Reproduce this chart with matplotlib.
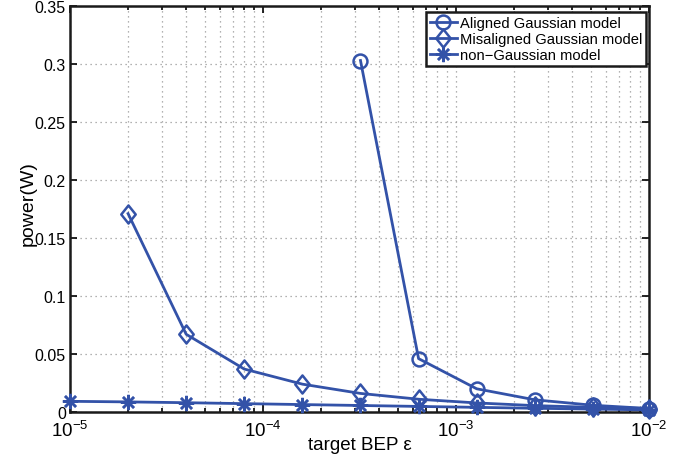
import numpy as np
import matplotlib.pyplot as plt
from matplotlib.path import Path

plt.rcParams['font.family'] = ['Liberation Sans', 'DejaVu Sans']

# target BEP values
eps_all = [1e-5, 2e-5, 4e-5, 8e-5, 1.6e-4, 3.2e-4, 6.4e-4, 1.28e-3, 2.56e-3, 5.12e-3, 1e-2]
eps_mis = eps_all[1:]
eps_ali = eps_all[5:]

# power (W)
p_aligned = [0.303, 0.046, 0.020, 0.0105, 0.0058, 0.003]
p_misaligned = [0.171, 0.067, 0.037, 0.024, 0.016, 0.011, 0.0078, 0.0055, 0.004, 0.003]
p_nongauss = [0.0092, 0.0087, 0.008, 0.0072, 0.0064, 0.0056, 0.0048, 0.004, 0.0032, 0.0025, 0.0018]

col = '#3352a8'
diamond = Path([(0, 1), (0.8, 0), (0, -1), (-0.8, 0), (0, 1)],
               [Path.MOVETO, Path.LINETO, Path.LINETO, Path.LINETO, Path.CLOSEPOLY])

fig = plt.figure(figsize=(6.9, 4.6), dpi=100)
ax = fig.add_axes([0.1014, 0.1022, 0.8392, 0.8826])

ax.plot(eps_ali, p_aligned, '-o', color=col, lw=2, ms=10, mfc='none', mew=1.8,
        label='Aligned Gaussian model', clip_on=False, zorder=3)
ax.plot(eps_mis, p_misaligned, '-', marker=diamond, color=col, lw=2, ms=13, mfc='none', mew=1.8,
        label='Misaligned Gaussian model', clip_on=False, zorder=3)
ax.plot(eps_all, p_nongauss, '-', marker=(8, 2, 0), color=col, lw=2, ms=11, mew=1.8,
        label='non\u2212Gaussian model', clip_on=False, zorder=3)

ax.set_xscale('log')
ax.set_xlim(1e-5, 1e-2)
ax.set_ylim(0, 0.35)
ax.set_yticks(np.arange(0, 0.351, 0.05))
ax.set_yticklabels(['0', '0.05', '0.1', '0.15', '0.2', '0.25', '0.3', '0.35'])

ax.grid(True, which='major', ls=(0, (1, 3)), color='#999999', lw=0.9)
ax.grid(True, which='minor', axis='x', ls=(0, (1, 3)), color='#999999', lw=0.9)

ax.tick_params(which='both', direction='in', top=True, right=True, labelsize=11.5)
ax.tick_params(which='major', length=5, width=1.2)
ax.tick_params(which='minor', length=3, width=1.2)
ax.tick_params(axis='x', pad=6, labelsize=13.5)
ax.tick_params(axis='y', pad=3)
for s in ax.spines.values():
    s.set_linewidth(1.8)
    s.set_color('#1a1a1a')

ax.set_xlabel('target BEP \u03b5', fontsize=13.5, va='center')
ax.xaxis.set_label_coords(0.5, -0.081)
ax.set_ylabel('power(W)', fontsize=14, va='center')
ax.yaxis.set_label_coords(-0.0725, 0.515)

leg = ax.legend(loc='upper right', bbox_to_anchor=(1 - 3 / 579, 1 - 6 / 406),
                borderaxespad=0, fontsize=10.6, fancybox=False, framealpha=1,
                edgecolor='#1a1a1a', borderpad=0.25, labelspacing=0.15,
                handlelength=1.85, handletextpad=0.2)
leg.get_frame().set_linewidth(1.8)

plt.savefig('out.png')
